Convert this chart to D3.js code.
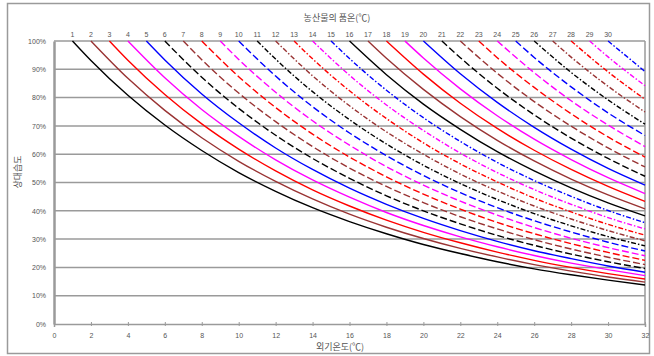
<!DOCTYPE html>
<html><head><meta charset="utf-8">
<script src="https://cdn.jsdelivr.net/npm/d3@7"></script>
<style>
html,body{margin:0;padding:0;background:#fff;}
svg{display:block;font-family:"Noto Sans CJK KR","Noto Sans",sans-serif;}
</style></head>
<body>
<svg id="chart" width="654" height="356"></svg>
<script>
// Produce (품온) temperatures, one curve each
const produceTemps = d3.range(1, 31);
// Outside temperatures sampled after each curve's start
const outsideTemps = [2,4,6,8,10,12,14,16,18,20,22,24,26,28,30,32];
// Relative humidity (%) per curve: first value at x = produce temp, then at each even outside temp above it
const rhCurves = [
  [100,93.1,80.8,70.3,61.3,53.5,46.9,41.1,36.2,31.9,28.1,24.9,22.0,19.5,17.4,15.5,13.8],
  [100,86.8,75.5,65.8,57.5,50.4,44.2,38.8,34.2,30.2,26.7,23.7,21.0,18.7,16.6,14.8],
  [100,93.2,81.1,70.7,61.8,54.1,47.4,41.7,36.7,32.4,28.7,25.4,22.5,20.0,17.8,15.9],
  [100,87.0,75.8,66.3,58.0,50.9,44.8,39.4,34.8,30.8,27.3,24.2,21.5,19.2,17.1],
  [100,93.3,81.3,71.1,62.2,54.6,48.0,42.3,37.3,33.0,29.2,25.9,23.1,20.5,18.3],
  [100,87.2,76.2,66.7,58.5,51.5,45.3,40.0,35.4,31.3,27.8,24.7,22.0,19.6],
  [100,93.4,81.6,71.5,62.7,55.1,48.6,42.9,37.9,33.6,29.8,26.5,23.6,21.0],
  [100,87.4,76.5,67.1,59.0,52.0,45.9,40.6,35.9,31.9,28.4,25.3,22.5],
  [100,93.5,81.9,71.8,63.2,55.6,49.1,43.4,38.5,34.1,30.3,27.0,24.1],
  [100,87.6,76.8,67.5,59.5,52.5,46.4,41.1,36.5,32.5,28.9,25.8],
  [100,93.6,82.1,72.2,63.6,56.1,49.6,44.0,39.0,34.7,30.9,27.6],
  [100,87.7,77.1,67.9,60.0,53.0,47.0,41.7,37.1,33.0,29.4],
  [100,93.7,82.4,72.6,64.0,56.6,50.2,44.5,39.6,35.2,31.4],
  [100,87.9,77.4,68.4,60.4,53.5,47.5,42.3,37.6,33.6],
  [100,93.8,82.6,72.9,64.5,57.1,50.7,45.1,40.1,35.8],
  [100,88.1,77.7,68.8,60.9,54.1,48.1,42.8,38.2],
  [100,93.9,82.9,73.3,64.9,57.6,51.2,45.6,40.7],
  [100,88.3,78.0,69.1,61.4,54.6,48.6,43.3],
  [100,94.0,83.1,73.6,65.3,58.1,51.7,46.1],
  [100,88.4,78.3,69.5,61.8,55.0,49.1],
  [100,94.1,83.3,73.9,65.7,58.5,52.2],
  [100,88.6,78.6,69.9,62.2,55.5],
  [100,94.1,83.6,74.3,66.1,59.0],
  [100,88.8,78.9,70.3,62.7],
  [100,94.2,83.8,74.6,66.6],
  [100,88.9,79.2,70.6],
  [100,94.3,84.0,74.9],
  [100,89.1,79.4],
  [100,94.4,84.2],
  [100,89.2]
];
const xTicks = d3.range(0, 33, 2);
const yTicks = d3.range(0, 101, 10);
const palette = ["#000000","#993333","#ff0000","#ff00ff","#0000ff"];
const dashGroups = [null, "7,3", "5,2,1.5,2", null, "7,3", "5,2,1.5,2"];

const svg = d3.select("#chart");
const M = {left:54, right:645, top:41, bottom:324};
const x = d3.scaleLinear().domain([0,32]).range([M.left, M.right]);
const y = d3.scaleLinear().domain([0,100]).range([M.bottom, M.top]);
const grey = "#9a9a9a", txt = "#555";

// outer frame
svg.append("rect").attr("x",7.5).attr("y",3.5).attr("width",642).attr("height",350)
  .attr("fill","none").attr("stroke",grey).attr("stroke-width",1.5);

// gridlines
svg.append("g").selectAll("line").data(yTicks.filter(d=>d>0)).join("line")
  .attr("x1",M.left).attr("x2",M.right).attr("y1",d=>y(d)).attr("y2",d=>y(d))
  .attr("stroke",grey).attr("stroke-width",1.5);
// right border
svg.append("line").attr("x1",M.right).attr("x2",M.right).attr("y1",M.top).attr("y2",M.bottom)
  .attr("stroke",grey).attr("stroke-width",1.5);

// y axis
const yAxis = svg.append("g").attr("transform",`translate(${M.left},0)`)
  .call(d3.axisLeft(y).tickValues(yTicks).tickFormat(d=>d+"%").tickSize(0).tickPadding(8));
yAxis.select(".domain").attr("stroke",grey).attr("stroke-width",2.5);
yAxis.selectAll("text").attr("fill",txt).style("font-size","7px").style("font-family","Liberation Sans, Arial, sans-serif");

// x axis
const xAxis = svg.append("g").attr("transform",`translate(0,${M.bottom})`)
  .call(d3.axisBottom(x).tickValues(xTicks).tickSize(3).tickPadding(6));
xAxis.select(".domain").attr("stroke",grey).attr("stroke-width",1.5);
xAxis.selectAll(".tick line").attr("stroke",grey).attr("y1",-2).attr("y2",2);
xAxis.selectAll("text").attr("fill",txt).style("font-size","7px").style("font-family","Liberation Sans, Arial, sans-serif");

// curves
const line = d3.line().x(d=>x(d[0])).y(d=>y(d[1])).curve(d3.curveMonotoneX);
const curves = produceTemps.map((t,i)=>{
  const xs = [t].concat(outsideTemps.filter(v=>v>t));
  return {t, i, pts: xs.map((xv,k)=>[xv, rhCurves[i][k]])};
});
svg.append("g").selectAll("path").data(curves).join("path")
  .attr("d",d=>line(d.pts))
  .attr("fill","none")
  .attr("stroke",d=>palette[d.i%5])
  .attr("stroke-width",1.4)
  .attr("stroke-dasharray",d=>dashGroups[Math.floor(d.i/5)]);

// top produce-temp labels
svg.append("g").selectAll("text").data(produceTemps).join("text")
  .attr("x",d=>x(d)).attr("y",M.top-4)
  .attr("text-anchor","middle").attr("fill",txt)
  .style("font-size","7px").style("font-family","Liberation Sans, Arial, sans-serif")
  .text(d=>d);

// titles
svg.append("text").attr("x",337).attr("y",21).attr("text-anchor","middle")
  .attr("fill",txt).style("font-size","9px").text("농산물의 품온(℃)");
svg.append("text").attr("x",340).attr("y",350).attr("text-anchor","middle")
  .attr("fill",txt).style("font-size","9px").text("외기온도(℃)");
svg.append("text").attr("transform","translate(21,172) rotate(-90)").attr("text-anchor","middle")
  .attr("fill",txt).style("font-size","9px").text("상대습도");
</script>
</body></html>
